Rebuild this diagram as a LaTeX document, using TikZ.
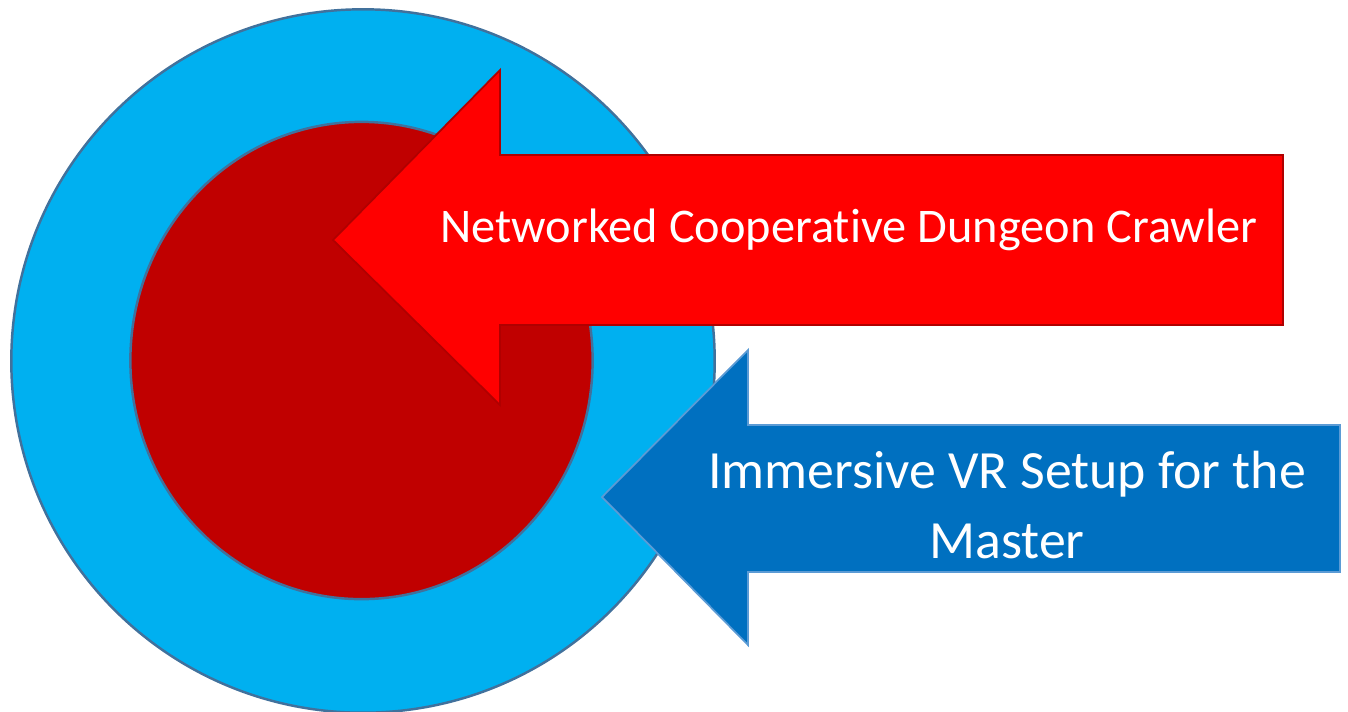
\documentclass[tikz,border=0pt]{standalone}
\usepackage{fontspec}
\setmainfont[Ligatures=NoCommon]{Carlito}
\definecolor{ringblue}{HTML}{00B0F0}
\definecolor{ringedge}{HTML}{41719C}
\definecolor{coredred}{HTML}{C00000}
\definecolor{arrowred}{HTML}{FF0000}
\definecolor{arrowredge}{HTML}{B00000}
\definecolor{arrowblue}{HTML}{0070C0}
\definecolor{arrowbluedge}{HTML}{5B9BD5}
\begin{document}
\begin{tikzpicture}[x=0.01cm,y=-0.01cm,
  ringstyle/.style={fill=ringblue,draw=ringedge,line width=0.7pt},
  corestyle/.style={fill=coredred,draw=ringedge,line width=0.7pt},
  redarrow/.style={fill=arrowred,draw=arrowredge,line width=0.5pt,line join=miter},
  bluearrow/.style={fill=arrowblue,draw=arrowbluedge,line width=0.5pt,line join=miter},
  redtext/.style={text=white,font=\fontsize{13.75pt}{20pt}\selectfont,align=center},
  bluetext/.style={text=white,font=\fontsize{15.3pt}{19.9pt}\selectfont,align=center}]
\useasboundingbox (0,0) rectangle (1348,711);
\clip (0,0) rectangle (1348,711);
\coordinate (ctr) at (363,361);
\coordinate (corectr) at (361.5,360.5);
\draw[ringstyle] (ctr) circle[radius=3.515cm];
\draw[corestyle] (corectr) ellipse[x radius=2.31cm,y radius=2.385cm];
% red arrow
\draw[redarrow] (333,240) -- (500,70) -- (500,155) -- (1283,155) -- (1283,325) -- (500,325) -- (500,405) -- cycle;
\node[redtext] (redlabel) at (849,230) {Networked Cooperative Dungeon Crawler};
% blue arrow
\draw[bluearrow] (602,497) -- (748,350) -- (748,425) -- (1340,425) -- (1340,572) -- (748,572) -- (748,645) -- cycle;
\node[bluetext] (bluelabel) at (1007,505) {Immersive VR Setup for the\\Master};
\end{tikzpicture}
\end{document}
